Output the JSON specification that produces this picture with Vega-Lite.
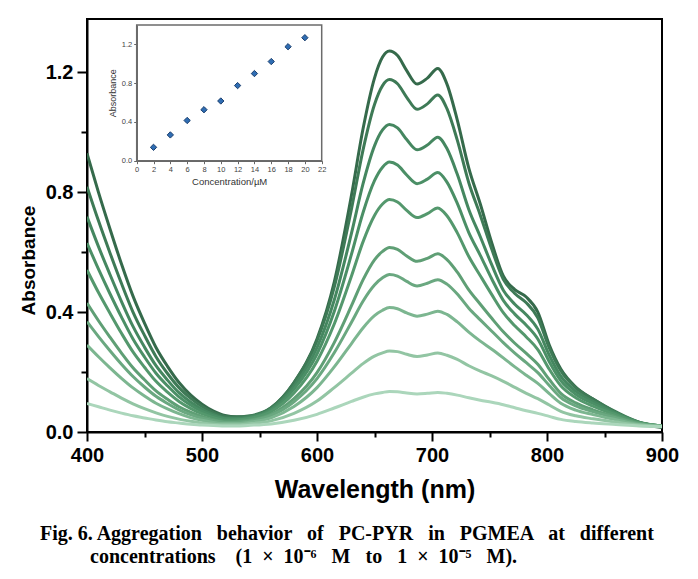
{
"$schema": "https://vega.github.io/schema/vega-lite/v6.json",
"width": 575, "height": 413,
"autosize": {"type": "none"},
"padding": {"left": 87, "top": 19, "right": 36, "bottom": 147},
"background": "white",
"config": {"view": {"stroke": "black", "strokeWidth": 2}},
"title": {"text": ["Fig. 6. Aggregation \u00a0\u00a0behavior \u00a0\u00a0of \u00a0\u00a0PC-PYR \u00a0\u00a0in \u00a0\u00a0PGMEA \u00a0\u00a0at \u00a0\u00a0different", "\u200b\u00a0\u00a0\u00a0\u00a0\u00a0\u00a0\u00a0\u00a0\u00a0\u00a0concentrations \u00a0\u00a0\u00a0(1 \u00a0× \u00a010⁻⁶ \u00a0\u00a0M \u00a0\u00a0to \u00a0\u00a01 \u00a0× \u00a010⁻⁵ \u00a0\u00a0M)."], "orient": "bottom", "anchor": "start", "frame": "group", "offset": 38, "baseline": "alphabetic", "dx": -47, "font": "Liberation Serif", "fontSize": 20, "fontWeight": "bold", "color": "black", "lineHeight": 23},
"layer": [
{
"data": {"values": [
{"c":10,"w":400,"a":0.929},{"c":10,"w":410,"a":0.799},{"c":10,"w":420,"a":0.677},{"c":10,"w":430,"a":0.560},{"c":10,"w":440,"a":0.453},{"c":10,"w":450,"a":0.363},{"c":10,"w":460,"a":0.282},{"c":10,"w":470,"a":0.219},{"c":10,"w":480,"a":0.165},{"c":10,"w":490,"a":0.124},{"c":10,"w":500,"a":0.093},{"c":10,"w":510,"a":0.070},{"c":10,"w":520,"a":0.055},{"c":10,"w":530,"a":0.051},{"c":10,"w":540,"a":0.052},{"c":10,"w":560,"a":0.080},{"c":10,"w":580,"a":0.165},{"c":10,"w":600,"a":0.310},{"c":10,"w":615,"a":0.500},{"c":10,"w":630,"a":0.790},{"c":10,"w":640,"a":1.010},{"c":10,"w":650,"a":1.180},{"c":10,"w":657,"a":1.250},{"c":10,"w":663,"a":1.270},{"c":10,"w":670,"a":1.255},{"c":10,"w":678,"a":1.205},{"c":10,"w":687,"a":1.160},{"c":10,"w":696,"a":1.180},{"c":10,"w":705,"a":1.212},{"c":10,"w":713,"a":1.160},{"c":10,"w":722,"a":1.040},{"c":10,"w":732,"a":0.880},{"c":10,"w":742,"a":0.760},{"c":10,"w":752,"a":0.630},{"c":10,"w":762,"a":0.520},{"c":10,"w":772,"a":0.475},{"c":10,"w":782,"a":0.450},{"c":10,"w":792,"a":0.400},{"c":10,"w":802,"a":0.290},{"c":10,"w":812,"a":0.210},{"c":10,"w":825,"a":0.150},{"c":10,"w":840,"a":0.110},{"c":10,"w":860,"a":0.065},{"c":10,"w":880,"a":0.030},{"c":10,"w":900,"a":0.015},
{"c":9,"w":400,"a":0.818},{"c":9,"w":410,"a":0.704},{"c":9,"w":420,"a":0.597},{"c":9,"w":430,"a":0.495},{"c":9,"w":440,"a":0.400},{"c":9,"w":450,"a":0.322},{"c":9,"w":460,"a":0.251},{"c":9,"w":470,"a":0.195},{"c":9,"w":480,"a":0.148},{"c":9,"w":490,"a":0.113},{"c":9,"w":500,"a":0.085},{"c":9,"w":510,"a":0.065},{"c":9,"w":520,"a":0.052},{"c":9,"w":530,"a":0.050},{"c":9,"w":540,"a":0.053},{"c":9,"w":560,"a":0.081},{"c":9,"w":580,"a":0.164},{"c":9,"w":600,"a":0.304},{"c":9,"w":615,"a":0.483},{"c":9,"w":630,"a":0.744},{"c":9,"w":640,"a":0.940},{"c":9,"w":650,"a":1.092},{"c":9,"w":657,"a":1.155},{"c":9,"w":663,"a":1.175},{"c":9,"w":670,"a":1.161},{"c":9,"w":678,"a":1.116},{"c":9,"w":687,"a":1.076},{"c":9,"w":696,"a":1.094},{"c":9,"w":705,"a":1.124},{"c":9,"w":713,"a":1.078},{"c":9,"w":722,"a":0.973},{"c":9,"w":732,"a":0.831},{"c":9,"w":742,"a":0.723},{"c":9,"w":752,"a":0.609},{"c":9,"w":762,"a":0.509},{"c":9,"w":772,"a":0.462},{"c":9,"w":782,"a":0.431},{"c":9,"w":792,"a":0.381},{"c":9,"w":802,"a":0.280},{"c":9,"w":812,"a":0.204},{"c":9,"w":825,"a":0.147},{"c":9,"w":840,"a":0.110},{"c":9,"w":860,"a":0.067},{"c":9,"w":880,"a":0.033},{"c":9,"w":900,"a":0.019},
{"c":8,"w":400,"a":0.718},{"c":8,"w":410,"a":0.618},{"c":8,"w":420,"a":0.525},{"c":8,"w":430,"a":0.435},{"c":8,"w":440,"a":0.352},{"c":8,"w":450,"a":0.283},{"c":8,"w":460,"a":0.221},{"c":8,"w":470,"a":0.173},{"c":8,"w":480,"a":0.131},{"c":8,"w":490,"a":0.100},{"c":8,"w":500,"a":0.076},{"c":8,"w":510,"a":0.059},{"c":8,"w":520,"a":0.047},{"c":8,"w":530,"a":0.046},{"c":8,"w":540,"a":0.050},{"c":8,"w":560,"a":0.077},{"c":8,"w":580,"a":0.153},{"c":8,"w":600,"a":0.281},{"c":8,"w":615,"a":0.440},{"c":8,"w":630,"a":0.663},{"c":8,"w":640,"a":0.827},{"c":8,"w":650,"a":0.954},{"c":8,"w":657,"a":1.007},{"c":8,"w":663,"a":1.025},{"c":8,"w":670,"a":1.014},{"c":8,"w":678,"a":0.975},{"c":8,"w":687,"a":0.941},{"c":8,"w":696,"a":0.957},{"c":8,"w":705,"a":0.983},{"c":8,"w":713,"a":0.945},{"c":8,"w":722,"a":0.859},{"c":8,"w":732,"a":0.742},{"c":8,"w":742,"a":0.651},{"c":8,"w":752,"a":0.557},{"c":8,"w":762,"a":0.473},{"c":8,"w":772,"a":0.426},{"c":8,"w":782,"a":0.391},{"c":8,"w":792,"a":0.343},{"c":8,"w":802,"a":0.256},{"c":8,"w":812,"a":0.186},{"c":8,"w":825,"a":0.136},{"c":8,"w":840,"a":0.102},{"c":8,"w":860,"a":0.064},{"c":8,"w":880,"a":0.033},{"c":8,"w":900,"a":0.020},
{"c":7,"w":400,"a":0.630},{"c":7,"w":410,"a":0.543},{"c":7,"w":420,"a":0.461},{"c":7,"w":430,"a":0.383},{"c":7,"w":440,"a":0.310},{"c":7,"w":450,"a":0.250},{"c":7,"w":460,"a":0.196},{"c":7,"w":470,"a":0.154},{"c":7,"w":480,"a":0.117},{"c":7,"w":490,"a":0.090},{"c":7,"w":500,"a":0.069},{"c":7,"w":510,"a":0.054},{"c":7,"w":520,"a":0.044},{"c":7,"w":530,"a":0.043},{"c":7,"w":540,"a":0.047},{"c":7,"w":560,"a":0.073},{"c":7,"w":580,"a":0.143},{"c":7,"w":600,"a":0.260},{"c":7,"w":615,"a":0.402},{"c":7,"w":630,"a":0.593},{"c":7,"w":640,"a":0.731},{"c":7,"w":650,"a":0.838},{"c":7,"w":657,"a":0.883},{"c":7,"w":663,"a":0.900},{"c":7,"w":670,"a":0.890},{"c":7,"w":678,"a":0.857},{"c":7,"w":687,"a":0.828},{"c":7,"w":696,"a":0.843},{"c":7,"w":705,"a":0.865},{"c":7,"w":713,"a":0.833},{"c":7,"w":722,"a":0.762},{"c":7,"w":732,"a":0.665},{"c":7,"w":742,"a":0.589},{"c":7,"w":752,"a":0.510},{"c":7,"w":762,"a":0.439},{"c":7,"w":772,"a":0.393},{"c":7,"w":782,"a":0.356},{"c":7,"w":792,"a":0.310},{"c":7,"w":802,"a":0.234},{"c":7,"w":812,"a":0.171},{"c":7,"w":825,"a":0.126},{"c":7,"w":840,"a":0.095},{"c":7,"w":860,"a":0.061},{"c":7,"w":880,"a":0.032},{"c":7,"w":900,"a":0.020},
{"c":6,"w":400,"a":0.540},{"c":6,"w":410,"a":0.465},{"c":6,"w":420,"a":0.396},{"c":6,"w":430,"a":0.329},{"c":6,"w":440,"a":0.267},{"c":6,"w":450,"a":0.216},{"c":6,"w":460,"a":0.169},{"c":6,"w":470,"a":0.133},{"c":6,"w":480,"a":0.102},{"c":6,"w":490,"a":0.079},{"c":6,"w":500,"a":0.061},{"c":6,"w":510,"a":0.048},{"c":6,"w":520,"a":0.039},{"c":6,"w":530,"a":0.040},{"c":6,"w":540,"a":0.044},{"c":6,"w":560,"a":0.068},{"c":6,"w":580,"a":0.130},{"c":6,"w":600,"a":0.236},{"c":6,"w":615,"a":0.360},{"c":6,"w":630,"a":0.520},{"c":6,"w":640,"a":0.634},{"c":6,"w":650,"a":0.722},{"c":6,"w":657,"a":0.760},{"c":6,"w":663,"a":0.775},{"c":6,"w":670,"a":0.767},{"c":6,"w":678,"a":0.739},{"c":6,"w":687,"a":0.715},{"c":6,"w":696,"a":0.728},{"c":6,"w":705,"a":0.747},{"c":6,"w":713,"a":0.721},{"c":6,"w":722,"a":0.664},{"c":6,"w":732,"a":0.585},{"c":6,"w":742,"a":0.521},{"c":6,"w":752,"a":0.458},{"c":6,"w":762,"a":0.398},{"c":6,"w":772,"a":0.354},{"c":6,"w":782,"a":0.317},{"c":6,"w":792,"a":0.275},{"c":6,"w":802,"a":0.209},{"c":6,"w":812,"a":0.154},{"c":6,"w":825,"a":0.114},{"c":6,"w":840,"a":0.086},{"c":6,"w":860,"a":0.057},{"c":6,"w":880,"a":0.031},{"c":6,"w":900,"a":0.020},
{"c":5,"w":400,"a":0.430},{"c":5,"w":410,"a":0.371},{"c":5,"w":420,"a":0.316},{"c":5,"w":430,"a":0.263},{"c":5,"w":440,"a":0.214},{"c":5,"w":450,"a":0.174},{"c":5,"w":460,"a":0.137},{"c":5,"w":470,"a":0.109},{"c":5,"w":480,"a":0.084},{"c":5,"w":490,"a":0.066},{"c":5,"w":500,"a":0.052},{"c":5,"w":510,"a":0.041},{"c":5,"w":520,"a":0.034},{"c":5,"w":530,"a":0.035},{"c":5,"w":540,"a":0.039},{"c":5,"w":560,"a":0.059},{"c":5,"w":580,"a":0.111},{"c":5,"w":600,"a":0.198},{"c":5,"w":615,"a":0.298},{"c":5,"w":630,"a":0.421},{"c":5,"w":640,"a":0.507},{"c":5,"w":650,"a":0.574},{"c":5,"w":657,"a":0.602},{"c":5,"w":663,"a":0.615},{"c":5,"w":670,"a":0.609},{"c":5,"w":678,"a":0.587},{"c":5,"w":687,"a":0.569},{"c":5,"w":696,"a":0.579},{"c":5,"w":705,"a":0.594},{"c":5,"w":713,"a":0.575},{"c":5,"w":722,"a":0.533},{"c":5,"w":732,"a":0.474},{"c":5,"w":742,"a":0.426},{"c":5,"w":752,"a":0.379},{"c":5,"w":762,"a":0.334},{"c":5,"w":772,"a":0.296},{"c":5,"w":782,"a":0.262},{"c":5,"w":792,"a":0.226},{"c":5,"w":802,"a":0.175},{"c":5,"w":812,"a":0.129},{"c":5,"w":825,"a":0.097},{"c":5,"w":840,"a":0.074},{"c":5,"w":860,"a":0.051},{"c":5,"w":880,"a":0.029},{"c":5,"w":900,"a":0.020},
{"c":4,"w":400,"a":0.368},{"c":4,"w":410,"a":0.318},{"c":4,"w":420,"a":0.271},{"c":4,"w":430,"a":0.226},{"c":4,"w":440,"a":0.185},{"c":4,"w":450,"a":0.150},{"c":4,"w":460,"a":0.119},{"c":4,"w":470,"a":0.095},{"c":4,"w":480,"a":0.074},{"c":4,"w":490,"a":0.058},{"c":4,"w":500,"a":0.046},{"c":4,"w":510,"a":0.038},{"c":4,"w":520,"a":0.032},{"c":4,"w":530,"a":0.032},{"c":4,"w":540,"a":0.036},{"c":4,"w":560,"a":0.055},{"c":4,"w":580,"a":0.101},{"c":4,"w":600,"a":0.178},{"c":4,"w":615,"a":0.264},{"c":4,"w":630,"a":0.366},{"c":4,"w":640,"a":0.436},{"c":4,"w":650,"a":0.490},{"c":4,"w":657,"a":0.514},{"c":4,"w":663,"a":0.525},{"c":4,"w":670,"a":0.520},{"c":4,"w":678,"a":0.502},{"c":4,"w":687,"a":0.487},{"c":4,"w":696,"a":0.496},{"c":4,"w":705,"a":0.508},{"c":4,"w":713,"a":0.493},{"c":4,"w":722,"a":0.460},{"c":4,"w":732,"a":0.413},{"c":4,"w":742,"a":0.374},{"c":4,"w":752,"a":0.336},{"c":4,"w":762,"a":0.298},{"c":4,"w":772,"a":0.263},{"c":4,"w":782,"a":0.231},{"c":4,"w":792,"a":0.198},{"c":4,"w":802,"a":0.155},{"c":4,"w":812,"a":0.115},{"c":4,"w":825,"a":0.087},{"c":4,"w":840,"a":0.068},{"c":4,"w":860,"a":0.047},{"c":4,"w":880,"a":0.028},{"c":4,"w":900,"a":0.020},
{"c":3,"w":400,"a":0.290},{"c":3,"w":410,"a":0.251},{"c":3,"w":420,"a":0.214},{"c":3,"w":430,"a":0.179},{"c":3,"w":440,"a":0.147},{"c":3,"w":450,"a":0.120},{"c":3,"w":460,"a":0.096},{"c":3,"w":470,"a":0.077},{"c":3,"w":480,"a":0.061},{"c":3,"w":490,"a":0.048},{"c":3,"w":500,"a":0.039},{"c":3,"w":510,"a":0.032},{"c":3,"w":520,"a":0.028},{"c":3,"w":530,"a":0.028},{"c":3,"w":540,"a":0.032},{"c":3,"w":560,"a":0.047},{"c":3,"w":580,"a":0.085},{"c":3,"w":600,"a":0.148},{"c":3,"w":615,"a":0.217},{"c":3,"w":630,"a":0.295},{"c":3,"w":640,"a":0.347},{"c":3,"w":650,"a":0.388},{"c":3,"w":657,"a":0.406},{"c":3,"w":663,"a":0.415},{"c":3,"w":670,"a":0.411},{"c":3,"w":678,"a":0.397},{"c":3,"w":687,"a":0.386},{"c":3,"w":696,"a":0.393},{"c":3,"w":705,"a":0.403},{"c":3,"w":713,"a":0.392},{"c":3,"w":722,"a":0.367},{"c":3,"w":732,"a":0.333},{"c":3,"w":742,"a":0.303},{"c":3,"w":752,"a":0.276},{"c":3,"w":762,"a":0.247},{"c":3,"w":772,"a":0.217},{"c":3,"w":782,"a":0.189},{"c":3,"w":792,"a":0.162},{"c":3,"w":802,"a":0.128},{"c":3,"w":812,"a":0.096},{"c":3,"w":825,"a":0.073},{"c":3,"w":840,"a":0.058},{"c":3,"w":860,"a":0.041},{"c":3,"w":880,"a":0.025},{"c":3,"w":900,"a":0.019},
{"c":2,"w":400,"a":0.178},{"c":2,"w":410,"a":0.155},{"c":2,"w":420,"a":0.134},{"c":2,"w":430,"a":0.113},{"c":2,"w":440,"a":0.094},{"c":2,"w":450,"a":0.078},{"c":2,"w":460,"a":0.064},{"c":2,"w":470,"a":0.052},{"c":2,"w":480,"a":0.043},{"c":2,"w":490,"a":0.036},{"c":2,"w":500,"a":0.030},{"c":2,"w":510,"a":0.026},{"c":2,"w":520,"a":0.024},{"c":2,"w":530,"a":0.024},{"c":2,"w":540,"a":0.027},{"c":2,"w":560,"a":0.037},{"c":2,"w":580,"a":0.062},{"c":2,"w":600,"a":0.103},{"c":2,"w":615,"a":0.148},{"c":2,"w":630,"a":0.196},{"c":2,"w":640,"a":0.228},{"c":2,"w":650,"a":0.253},{"c":2,"w":657,"a":0.264},{"c":2,"w":663,"a":0.270},{"c":2,"w":670,"a":0.268},{"c":2,"w":678,"a":0.259},{"c":2,"w":687,"a":0.252},{"c":2,"w":696,"a":0.257},{"c":2,"w":705,"a":0.263},{"c":2,"w":713,"a":0.256},{"c":2,"w":722,"a":0.242},{"c":2,"w":732,"a":0.221},{"c":2,"w":742,"a":0.203},{"c":2,"w":752,"a":0.187},{"c":2,"w":762,"a":0.169},{"c":2,"w":772,"a":0.149},{"c":2,"w":782,"a":0.129},{"c":2,"w":792,"a":0.111},{"c":2,"w":802,"a":0.090},{"c":2,"w":812,"a":0.069},{"c":2,"w":825,"a":0.054},{"c":2,"w":840,"a":0.044},{"c":2,"w":860,"a":0.033},{"c":2,"w":880,"a":0.023},{"c":2,"w":900,"a":0.018},
{"c":1,"w":400,"a":0.095},{"c":1,"w":410,"a":0.084},{"c":1,"w":420,"a":0.073},{"c":1,"w":430,"a":0.063},{"c":1,"w":440,"a":0.054},{"c":1,"w":450,"a":0.047},{"c":1,"w":460,"a":0.040},{"c":1,"w":470,"a":0.034},{"c":1,"w":480,"a":0.030},{"c":1,"w":490,"a":0.026},{"c":1,"w":500,"a":0.023},{"c":1,"w":510,"a":0.022},{"c":1,"w":520,"a":0.020},{"c":1,"w":530,"a":0.020},{"c":1,"w":540,"a":0.022},{"c":1,"w":560,"a":0.027},{"c":1,"w":580,"a":0.039},{"c":1,"w":600,"a":0.059},{"c":1,"w":615,"a":0.080},{"c":1,"w":630,"a":0.102},{"c":1,"w":640,"a":0.116},{"c":1,"w":650,"a":0.127},{"c":1,"w":657,"a":0.132},{"c":1,"w":663,"a":0.135},{"c":1,"w":670,"a":0.134},{"c":1,"w":678,"a":0.130},{"c":1,"w":687,"a":0.127},{"c":1,"w":696,"a":0.129},{"c":1,"w":705,"a":0.132},{"c":1,"w":713,"a":0.129},{"c":1,"w":722,"a":0.123},{"c":1,"w":732,"a":0.114},{"c":1,"w":742,"a":0.106},{"c":1,"w":752,"a":0.099},{"c":1,"w":762,"a":0.091},{"c":1,"w":772,"a":0.081},{"c":1,"w":782,"a":0.071},{"c":1,"w":792,"a":0.062},{"c":1,"w":802,"a":0.052},{"c":1,"w":812,"a":0.042},{"c":1,"w":825,"a":0.035},{"c":1,"w":840,"a":0.030},{"c":1,"w":860,"a":0.025},{"c":1,"w":880,"a":0.020},{"c":1,"w":900,"a":0.018}
]},
"mark": {"type": "line", "strokeWidth": 3, "interpolate": "monotone", "clip": true},
"encoding": {
"x": {"field": "w", "type": "quantitative", "scale": {"domain": [400, 900], "nice": false, "zero": false},
 "axis": {"values": [400,450,500,550,600,650,700,750,800,850,900], "labelExpr": "datum.value % 100 == 0 ? datum.label : ''", "tickSize": {"condition": {"test": "datum.value % 100 == 0", "value": 9}, "value": 5}, "tickWidth": 2, "tickColor": "black", "domainColor": "black", "domainWidth": 2, "grid": false, "labelFlush": false, "labelFont": "Liberation Sans", "labelFontSize": 20, "labelFontWeight": "bold", "labelColor": "black", "labelPadding": 4, "title": "Wavelength (nm)", "titleFont": "Liberation Sans", "titleFontSize": 25, "titleFontWeight": "bold", "titleColor": "black", "titleBaseline": "alphabetic", "titleY": 65}},
"y": {"field": "a", "type": "quantitative", "scale": {"domain": [0, 1.377], "nice": false},
 "axis": {"values": [0,0.2,0.4,0.6,0.8,1.0,1.2], "labelExpr": "round(datum.value*10) % 4 == 0 ? format(datum.value, '.1f') : ''", "tickSize": {"condition": {"test": "round(datum.value*10) % 4 == 0", "value": 10}, "value": 6}, "tickWidth": 2, "tickColor": "black", "domainColor": "black", "domainWidth": 2, "grid": false, "labelFlush": false, "labelFont": "Liberation Sans", "labelFontSize": 20, "labelFontWeight": "bold", "labelColor": "black", "labelPadding": 4, "title": "Absorbance", "titleFont": "Liberation Sans", "titleFontSize": 19, "titleFontWeight": "bold", "titleColor": "black", "titleBaseline": "alphabetic", "titleX": -53, "titleY": 241}},
"color": {"field": "c", "type": "ordinal", "scale": {"domain": [1,2,3,4,5,6,7,8,9,10], "range": ["#abd6bb","#92c5a3","#7cb690","#6aa880","#5f9f75","#54986d","#4b8f66","#458760","#3e7a56","#356a4b"]}, "legend": null}
}
},
{
"layer": [
{"data": {"values": [{}]},
 "mark": {"type": "rect", "fill": "white", "fillOpacity": 0, "stroke": "#6b6b6b", "strokeWidth": 1.5},
 "encoding": {"x": {"datum": 0, "type": "quantitative"}, "x2": {"datum": 22}, "y": {"datum": 0, "type": "quantitative"}, "y2": {"datum": 1.4}}},
{"data": {"values": [{"conc":2,"abs":0.138},{"conc":4,"abs":0.266},{"conc":6,"abs":0.415},{"conc":8,"abs":0.526},{"conc":10,"abs":0.616},{"conc":12,"abs":0.775},{"conc":14,"abs":0.899},{"conc":16,"abs":1.023},{"conc":18,"abs":1.176},{"conc":20,"abs":1.269}]},
 "mark": {"type": "point", "shape": "diamond", "filled": true, "fill": "#2f6db3", "stroke": "#1b3f6e", "strokeWidth": 1, "size": 40, "opacity": 1},
 "encoding": {
 "x": {"field": "conc", "type": "quantitative", "scale": {"domain": [0, 22], "range": [49.7, 234.7], "nice": false},
  "axis": {"orient": "bottom", "offset": -271.3, "values": [0,2,4,6,8,10,12,14,16,18,20,22], "tickSize": 3, "tickColor": "#666", "domainColor": "#666", "domainWidth": 1.5, "grid": false, "labelFlush": false, "labelFont": "Liberation Sans", "labelFontSize": 7.5, "labelColor": "#444", "labelPadding": 2, "title": "Concentration/µM", "titleFont": "Liberation Sans", "titleFontSize": 9.5, "titleFontWeight": "normal", "titleColor": "#333", "titlePadding": 3}},
 "y": {"field": "abs", "type": "quantitative", "scale": {"domain": [0, 1.4], "range": [141.7, 6], "nice": false},
  "axis": {"orient": "left", "offset": -49.7, "values": [0,0.4,0.8,1.2], "format": ".1f", "tickSize": 3, "tickColor": "#666", "domainColor": "#666", "domainWidth": 1.5, "grid": false, "labelFlush": false, "labelFont": "Liberation Sans", "labelFontSize": 7.5, "labelColor": "#444", "labelPadding": 2, "title": "Absorbance", "titleFont": "Liberation Sans", "titleFontSize": 9, "titleFontWeight": "normal", "titleColor": "#333", "titlePadding": 4}}
 }}
]
}
],
"resolve": {"scale": {"x": "independent", "y": "independent"}, "axis": {"x": "independent", "y": "independent"}}
}
